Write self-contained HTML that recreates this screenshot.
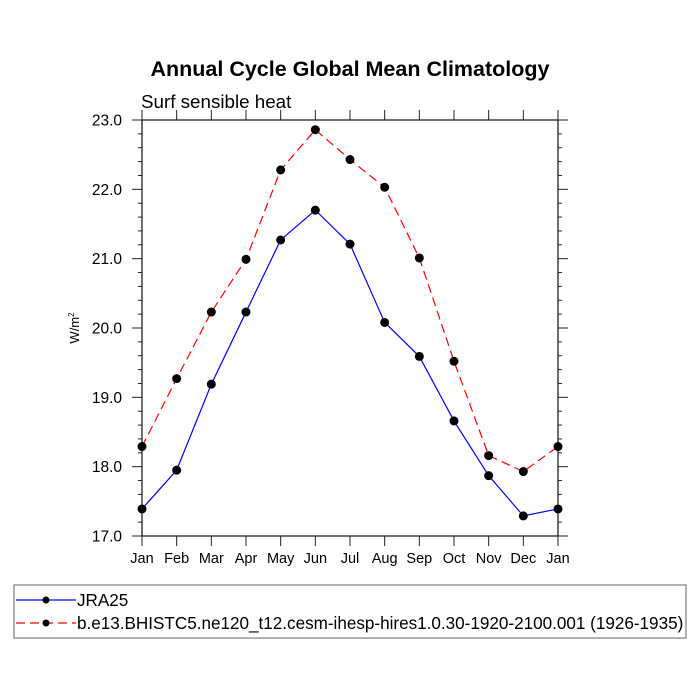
<!DOCTYPE html>
<html><head><meta charset="utf-8"><style>body{margin:0;background:#fff}svg{display:block;font-family:"Liberation Sans",sans-serif}</style></head>
<body>
<svg id="c" width="700" height="700" viewBox="0 0 700 700">
<text x="350" y="76" text-anchor="middle" font-size="21.5" font-weight="bold">Annual Cycle Global Mean Climatology</text>
<text x="141" y="108" font-size="18.8">Surf sensible heat</text>
<text transform="translate(79,328) rotate(-90)" text-anchor="middle" font-size="13">W/m<tspan dy="-5" font-size="8">2</tspan></text>
<g id="ax"></g>
<g id="ser"></g>
<rect x="14" y="585" width="672" height="53" fill="none" stroke="#888" stroke-width="1.3"/>
<g>
<line x1="16" y1="600" x2="76" y2="600" stroke="blue" stroke-width="1.2"/><circle cx="46" cy="600" r="3.5"/>
<text x="77" y="606" font-size="17.1">JRA25</text></g>
<g>
<line x1="16" y1="623" x2="76" y2="623" stroke="red" stroke-width="1.2" stroke-dasharray="9,5"/><circle cx="46" cy="623" r="3.5"/>
<text x="77" y="629" font-size="17.1">b.e13.BHISTC5.ne120_t12.cesm-ihesp-hires1.0.30-1920-2100.001 (1926-1935)</text></g>
</svg>
<script>
const months=["Jan","Feb","Mar","Apr","May","Jun","Jul","Aug","Sep","Oct","Nov","Dec","Jan"];
const jra25=[17.39,17.95,19.19,20.23,21.27,21.70,21.21,20.08,19.59,18.66,17.87,17.29,17.39];
const model=[18.29,19.27,20.23,20.99,22.28,22.86,22.43,22.03,21.01,19.52,18.16,17.93,18.29];
const yTicks=[17.0,18.0,19.0,20.0,21.0,22.0,23.0];
const NS="http://www.w3.org/2000/svg";
const L=142,R=558,T=120,B=536,ymin=17,ymax=23;
const xs=i=>L+(R-L)*i/(months.length-1);
const ys=v=>B-(v-ymin)/(ymax-ymin)*(B-T);
function mk(p,tag,a){const e=document.createElementNS(NS,tag);for(const k in a)e.setAttribute(k,a[k]);p.appendChild(e);return e;}
const ax=document.getElementById('ax');
const frame=mk(ax,'rect',{x:L,y:T,width:R-L,height:B-T,fill:'none',stroke:'#222','stroke-width':1.3});


months.forEach((m,i)=>{const x=xs(i);
 mk(ax,'line',{x1:x,y1:B,x2:x,y2:B+10,stroke:'#222'});
 mk(ax,'line',{x1:x,y1:T,x2:x,y2:T-10,stroke:'#222'});
 const t=mk(ax,'text',{x:x,y:B+27,'text-anchor':'middle','font-size':14.5});t.textContent=m;
 
 
});
for(let v=ymin;v<=ymax+1e-9;v+=0.2){const y=ys(v);const maj=Math.abs(v-Math.round(v))<1e-6;const len=maj?10:4;
 mk(ax,'line',{x1:L,y1:y,x2:L-len,y2:y,stroke:'#222'});
 mk(ax,'line',{x1:R,y1:y,x2:R+len,y2:y,stroke:'#222'});}
yTicks.forEach(v=>{const t=mk(ax,'text',{x:L-20,y:ys(v)+5.5,'text-anchor':'end','font-size':15.5});t.textContent=v.toFixed(1);
 
 });
const ser=document.getElementById('ser');
function draw(vals,col,dash,name){const g=mk(ser,'g',{});
 
 
 mk(g,'polyline',{points:vals.map((v,i)=>xs(i)+','+ys(v)).join(' '),fill:'none',stroke:col,'stroke-width':1.2,'stroke-dasharray':dash});
 vals.forEach((v,i)=>{const c=mk(g,'circle',{cx:xs(i),cy:ys(v),r:4.5,fill:'#000'});
 
 });}
draw(model,'red','9,5','series-model');
draw(jra25,'blue','none','series-jra25');
</script>
</body></html>
